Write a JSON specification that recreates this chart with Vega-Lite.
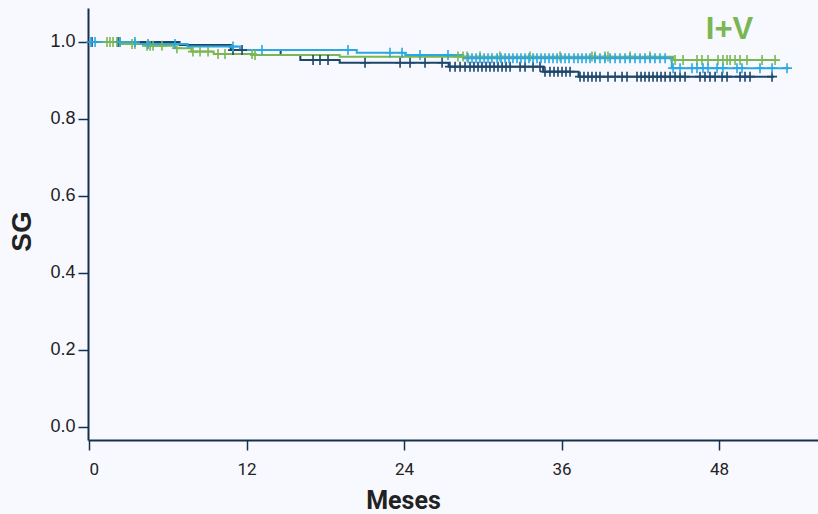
{
  "$schema": "https://vega.github.io/schema/vega-lite/v6.json",
  "width": 730,
  "height": 432,
  "autosize": "none",
  "padding": {"left": 88, "top": 8, "right": 0, "bottom": 74},
  "background": "#f8f9fe",
  "config": {"view": {"stroke": null}},
  "datasets": {
    "km": [
      {"g":"A","t":0,"s":1.0,"k":"s"},{"g":"A","t":6.9,"s":0.992,"k":"s"},{"g":"A","t":10.8,"s":0.979,"k":"s"},{"g":"A","t":14.6,"s":0.966,"k":"s"},{"g":"A","t":16.1,"s":0.953,"k":"s"},{"g":"A","t":19.1,"s":0.946,"k":"s"},{"g":"A","t":27.4,"s":0.936,"k":"s"},{"g":"A","t":34.6,"s":0.923,"k":"s"},{"g":"A","t":37.3,"s":0.91,"k":"s"},{"g":"A","t":52.2,"s":0.91,"k":"s"},
      {"g":"B","t":0,"s":1.0,"k":"s"},{"g":"B","t":2.5,"s":0.995,"k":"s"},{"g":"B","t":4.3,"s":0.99,"k":"s"},{"g":"B","t":6.5,"s":0.984,"k":"s"},{"g":"B","t":7.8,"s":0.975,"k":"s"},{"g":"B","t":9.5,"s":0.969,"k":"s"},{"g":"B","t":12.5,"s":0.966,"k":"s"},{"g":"B","t":19.1,"s":0.962,"k":"s"},{"g":"B","t":44.5,"s":0.953,"k":"s"},{"g":"B","t":52.4,"s":0.953,"k":"s"},
      {"g":"C","t":0,"s":1.0,"k":"s"},{"g":"C","t":3.6,"s":0.995,"k":"s"},{"g":"C","t":7.5,"s":0.988,"k":"s"},{"g":"C","t":11.5,"s":0.979,"k":"s"},{"g":"C","t":20.4,"s":0.972,"k":"s"},{"g":"C","t":24.1,"s":0.966,"k":"s"},{"g":"C","t":28.5,"s":0.958,"k":"s"},{"g":"C","t":44.4,"s":0.932,"k":"s"},{"g":"C","t":53.3,"s":0.932,"k":"s"},

      {"g":"A","t":0.23,"s":1.0,"k":"c"},{"g":"A","t":2.21,"s":1.0,"k":"c"},{"g":"A","t":10.97,"s":0.979,"k":"c"},{"g":"A","t":11.66,"s":0.979,"k":"c"},{"g":"A","t":17.07,"s":0.953,"k":"c"},{"g":"A","t":17.6,"s":0.953,"k":"c"},{"g":"A","t":18.21,"s":0.953,"k":"c"},{"g":"A","t":21.03,"s":0.946,"k":"c"},{"g":"A","t":23.7,"s":0.946,"k":"c"},{"g":"A","t":24.46,"s":0.946,"k":"c"},{"g":"A","t":25.6,"s":0.946,"k":"c"},{"g":"A","t":26.9,"s":0.946,"k":"c"},
      {"g":"A","t":27.5,"s":0.936,"k":"c"},{"g":"A","t":27.89,"s":0.936,"k":"c"},{"g":"A","t":28.27,"s":0.936,"k":"c"},{"g":"A","t":28.65,"s":0.936,"k":"c"},{"g":"A","t":29.03,"s":0.936,"k":"c"},{"g":"A","t":29.33,"s":0.936,"k":"c"},{"g":"A","t":29.64,"s":0.936,"k":"c"},{"g":"A","t":29.94,"s":0.936,"k":"c"},{"g":"A","t":30.25,"s":0.936,"k":"c"},{"g":"A","t":30.55,"s":0.936,"k":"c"},{"g":"A","t":30.86,"s":0.936,"k":"c"},{"g":"A","t":31.16,"s":0.936,"k":"c"},{"g":"A","t":31.47,"s":0.936,"k":"c"},{"g":"A","t":31.77,"s":0.936,"k":"c"},{"g":"A","t":32.08,"s":0.936,"k":"c"},{"g":"A","t":32.84,"s":0.936,"k":"c"},{"g":"A","t":33.22,"s":0.936,"k":"c"},{"g":"A","t":33.83,"s":0.936,"k":"c"},{"g":"A","t":34.36,"s":0.936,"k":"c"},
      {"g":"A","t":34.74,"s":0.923,"k":"c"},{"g":"A","t":35.12,"s":0.923,"k":"c"},{"g":"A","t":35.43,"s":0.923,"k":"c"},{"g":"A","t":35.73,"s":0.923,"k":"c"},{"g":"A","t":36.04,"s":0.923,"k":"c"},{"g":"A","t":36.34,"s":0.923,"k":"c"},{"g":"A","t":36.65,"s":0.923,"k":"c"},
      {"g":"A","t":37.41,"s":0.91,"k":"c"},{"g":"A","t":37.71,"s":0.91,"k":"c"},{"g":"A","t":38.02,"s":0.91,"k":"c"},{"g":"A","t":38.32,"s":0.91,"k":"c"},{"g":"A","t":38.63,"s":0.91,"k":"c"},{"g":"A","t":38.93,"s":0.91,"k":"c"},{"g":"A","t":39.54,"s":0.91,"k":"c"},{"g":"A","t":40.08,"s":0.91,"k":"c"},{"g":"A","t":40.61,"s":0.91,"k":"c"},{"g":"A","t":40.99,"s":0.91,"k":"c"},{"g":"A","t":41.75,"s":0.91,"k":"c"},{"g":"A","t":42.06,"s":0.91,"k":"c"},{"g":"A","t":42.36,"s":0.91,"k":"c"},{"g":"A","t":42.67,"s":0.91,"k":"c"},{"g":"A","t":42.97,"s":0.91,"k":"c"},{"g":"A","t":43.28,"s":0.91,"k":"c"},{"g":"A","t":43.58,"s":0.91,"k":"c"},{"g":"A","t":43.89,"s":0.91,"k":"c"},{"g":"A","t":44.27,"s":0.91,"k":"c"},{"g":"A","t":44.65,"s":0.91,"k":"c"},{"g":"A","t":45.03,"s":0.91,"k":"c"},{"g":"A","t":45.41,"s":0.91,"k":"c"},{"g":"A","t":46.55,"s":0.91,"k":"c"},{"g":"A","t":46.93,"s":0.91,"k":"c"},{"g":"A","t":47.31,"s":0.91,"k":"c"},{"g":"A","t":47.7,"s":0.91,"k":"c"},{"g":"A","t":48.23,"s":0.91,"k":"c"},{"g":"A","t":48.61,"s":0.91,"k":"c"},{"g":"A","t":49.6,"s":0.91,"k":"c"},{"g":"A","t":49.98,"s":0.91,"k":"c"},{"g":"A","t":50.36,"s":0.91,"k":"c"},{"g":"A","t":52.04,"s":0.91,"k":"c"},

      {"g":"B","t":1.37,"s":1.0,"k":"c"},{"g":"B","t":1.6,"s":1.0,"k":"c"},{"g":"B","t":1.83,"s":1.0,"k":"c"},{"g":"B","t":2.13,"s":1.0,"k":"c"},{"g":"B","t":2.36,"s":1.0,"k":"c"},{"g":"B","t":3.28,"s":0.995,"k":"c"},{"g":"B","t":3.5,"s":0.995,"k":"c"},{"g":"B","t":4.42,"s":0.99,"k":"c"},{"g":"B","t":4.65,"s":0.99,"k":"c"},{"g":"B","t":4.88,"s":0.99,"k":"c"},{"g":"B","t":5.56,"s":0.99,"k":"c"},{"g":"B","t":6.7,"s":0.984,"k":"c"},{"g":"B","t":7.92,"s":0.975,"k":"c"},{"g":"B","t":8.46,"s":0.975,"k":"c"},{"g":"B","t":9.07,"s":0.975,"k":"c"},{"g":"B","t":9.83,"s":0.969,"k":"c"},{"g":"B","t":10.36,"s":0.969,"k":"c"},{"g":"B","t":12.42,"s":0.969,"k":"c"},{"g":"B","t":12.65,"s":0.966,"k":"c"},
      {"g":"B","t":28.11,"s":0.962,"k":"c"},{"g":"B","t":28.5,"s":0.962,"k":"c"},{"g":"B","t":28.8,"s":0.962,"k":"c"},{"g":"B","t":29.79,"s":0.962,"k":"c"},{"g":"B","t":31.31,"s":0.962,"k":"c"},{"g":"B","t":33.6,"s":0.962,"k":"c"},{"g":"B","t":35.89,"s":0.962,"k":"c"},{"g":"B","t":38.32,"s":0.962,"k":"c"},{"g":"B","t":38.55,"s":0.962,"k":"c"},{"g":"B","t":39.31,"s":0.962,"k":"c"},{"g":"B","t":39.54,"s":0.962,"k":"c"},{"g":"B","t":41.22,"s":0.962,"k":"c"},{"g":"B","t":42.74,"s":0.962,"k":"c"},
      {"g":"B","t":44.65,"s":0.953,"k":"c"},{"g":"B","t":45.26,"s":0.953,"k":"c"},{"g":"B","t":46.32,"s":0.953,"k":"c"},{"g":"B","t":46.7,"s":0.953,"k":"c"},{"g":"B","t":47.16,"s":0.953,"k":"c"},{"g":"B","t":47.92,"s":0.953,"k":"c"},{"g":"B","t":48.3,"s":0.953,"k":"c"},{"g":"B","t":48.61,"s":0.953,"k":"c"},{"g":"B","t":48.84,"s":0.953,"k":"c"},{"g":"B","t":49.22,"s":0.953,"k":"c"},{"g":"B","t":49.6,"s":0.953,"k":"c"},{"g":"B","t":50.13,"s":0.953,"k":"c"},{"g":"B","t":51.28,"s":0.953,"k":"c"},{"g":"B","t":52.27,"s":0.953,"k":"c"},

      {"g":"C","t":0.15,"s":1.0,"k":"c"},{"g":"C","t":0.46,"s":1.0,"k":"c"},{"g":"C","t":2.36,"s":1.0,"k":"c"},{"g":"C","t":3.5,"s":1.0,"k":"c"},{"g":"C","t":4.5,"s":0.995,"k":"c"},{"g":"C","t":6.55,"s":0.995,"k":"c"},{"g":"C","t":10.97,"s":0.988,"k":"c"},{"g":"C","t":13.18,"s":0.979,"k":"c"},{"g":"C","t":19.73,"s":0.979,"k":"c"},{"g":"C","t":22.93,"s":0.972,"k":"c"},{"g":"C","t":23.85,"s":0.972,"k":"c"},{"g":"C","t":25.22,"s":0.966,"k":"c"},{"g":"C","t":27.35,"s":0.966,"k":"c"},
      {"g":"C","t":28.88,"s":0.958,"k":"c"},{"g":"C","t":29.18,"s":0.958,"k":"c"},{"g":"C","t":29.49,"s":0.958,"k":"c"},{"g":"C","t":29.79,"s":0.958,"k":"c"},{"g":"C","t":30.1,"s":0.958,"k":"c"},{"g":"C","t":30.4,"s":0.958,"k":"c"},{"g":"C","t":30.7,"s":0.958,"k":"c"},{"g":"C","t":31.09,"s":0.958,"k":"c"},{"g":"C","t":31.39,"s":0.958,"k":"c"},{"g":"C","t":31.7,"s":0.958,"k":"c"},{"g":"C","t":32.0,"s":0.958,"k":"c"},{"g":"C","t":32.3,"s":0.958,"k":"c"},{"g":"C","t":32.61,"s":0.958,"k":"c"},{"g":"C","t":32.91,"s":0.958,"k":"c"},{"g":"C","t":33.22,"s":0.958,"k":"c"},{"g":"C","t":33.52,"s":0.958,"k":"c"},{"g":"C","t":33.83,"s":0.958,"k":"c"},{"g":"C","t":34.13,"s":0.958,"k":"c"},{"g":"C","t":34.44,"s":0.958,"k":"c"},{"g":"C","t":34.74,"s":0.958,"k":"c"},{"g":"C","t":35.05,"s":0.958,"k":"c"},{"g":"C","t":35.35,"s":0.958,"k":"c"},{"g":"C","t":35.66,"s":0.958,"k":"c"},{"g":"C","t":35.96,"s":0.958,"k":"c"},{"g":"C","t":36.27,"s":0.958,"k":"c"},{"g":"C","t":36.57,"s":0.958,"k":"c"},{"g":"C","t":36.95,"s":0.958,"k":"c"},{"g":"C","t":37.26,"s":0.958,"k":"c"},{"g":"C","t":37.56,"s":0.958,"k":"c"},{"g":"C","t":37.87,"s":0.958,"k":"c"},{"g":"C","t":38.17,"s":0.958,"k":"c"},{"g":"C","t":38.55,"s":0.958,"k":"c"},{"g":"C","t":38.93,"s":0.958,"k":"c"},{"g":"C","t":39.31,"s":0.958,"k":"c"},{"g":"C","t":39.7,"s":0.958,"k":"c"},{"g":"C","t":40.08,"s":0.958,"k":"c"},{"g":"C","t":40.46,"s":0.958,"k":"c"},{"g":"C","t":40.84,"s":0.958,"k":"c"},{"g":"C","t":41.22,"s":0.958,"k":"c"},{"g":"C","t":41.6,"s":0.958,"k":"c"},{"g":"C","t":41.98,"s":0.958,"k":"c"},{"g":"C","t":42.36,"s":0.958,"k":"c"},{"g":"C","t":42.74,"s":0.958,"k":"c"},{"g":"C","t":43.12,"s":0.958,"k":"c"},{"g":"C","t":43.5,"s":0.958,"k":"c"},{"g":"C","t":43.89,"s":0.958,"k":"c"},
      {"g":"C","t":44.5,"s":0.932,"k":"c"},{"g":"C","t":45.03,"s":0.932,"k":"c"},{"g":"C","t":45.94,"s":0.932,"k":"c"},{"g":"C","t":46.32,"s":0.932,"k":"c"},{"g":"C","t":46.78,"s":0.932,"k":"c"},{"g":"C","t":47.16,"s":0.932,"k":"c"},{"g":"C","t":47.85,"s":0.932,"k":"c"},{"g":"C","t":48.3,"s":0.932,"k":"c"},{"g":"C","t":49.37,"s":0.932,"k":"c"},{"g":"C","t":49.75,"s":0.932,"k":"c"},{"g":"C","t":51.12,"s":0.932,"k":"c"},{"g":"C","t":52.04,"s":0.932,"k":"c"},{"g":"C","t":53.18,"s":0.932,"k":"c"}
    ],
    "labels": [{"t": 48.8, "s": 1.031, "txt": "I+V"}]
  },
  "layer": [
    {
      "data": {"name": "km"},
      "transform": [{"filter": "datum.k == 's'"}],
      "mark": {"type": "line", "interpolate": "step-after", "strokeWidth": 2},
      "encoding": {
        "x": {"field": "t", "type": "quantitative", "scale": {"domain": [-0.076, 55.54], "nice": false, "zero": false},
          "axis": {"values": [0, 12, 24, 36, 48], "title": "Meses", "grid": false,
            "domainColor": "#15304d", "domainWidth": 2, "tickColor": "#15304d", "tickWidth": 1.5, "tickSize": 10,
            "labelFont": "Roboto", "labelFontSize": 17, "labelColor": "#222222", "labelPadding": 11,
            "titleFont": "Roboto", "titleFontSize": 25, "titleFontWeight": "bold", "titleColor": "#222222",
            "titleBaseline": "alphabetic", "titleY": 68, "titleX": 315}},
        "y": {"field": "s", "type": "quantitative", "scale": {"domain": [-0.0338, 1.0883], "nice": false, "zero": false},
          "axis": {"values": [0, 0.2, 0.4, 0.6, 0.8, 1.0], "format": ".1f", "title": "SG", "grid": false,
            "domainColor": "#15304d", "domainWidth": 2, "tickColor": "#15304d", "tickWidth": 1.5, "tickSize": 10,
            "labelFont": "Liberation Sans", "labelFontSize": 18, "labelColor": "#222222", "labelPadding": 3,
            "titleFont": "Liberation Sans", "titleFontSize": 28, "titleFontWeight": "bold", "titleColor": "#222222",
            "titleAngle": -90, "titleBaseline": "middle", "titleAlign": "center", "titleX": -66, "titleY": 223}},
        "color": {"field": "g", "type": "nominal", "scale": {"domain": ["A", "B", "C"], "range": ["#1c466b", "#7ab752", "#2ba7e2"]}, "legend": null}
      }
    },
    {
      "data": {"name": "km"},
      "transform": [{"filter": "datum.k == 'c'"}],
      "mark": {"type": "point", "shape": "M-1,0H1M0,-1V1", "filled": false, "strokeWidth": 1.6, "size": 100, "opacity": 1},
      "encoding": {
        "x": {"field": "t", "type": "quantitative"},
        "y": {"field": "s", "type": "quantitative"},
        "color": {"field": "g", "type": "nominal", "scale": {"domain": ["A", "B", "C"], "range": ["#1c466b", "#7ab752", "#2ba7e2"]}, "legend": null}
      }
    },
    {
      "data": {"name": "labels"},
      "mark": {"type": "text", "font": "Liberation Sans", "fontSize": 31, "fontWeight": "bold", "color": "#7ab752", "align": "center", "baseline": "middle"},
      "encoding": {
        "x": {"field": "t", "type": "quantitative"},
        "y": {"field": "s", "type": "quantitative"},
        "text": {"field": "txt"}
      }
    }
  ]
}
